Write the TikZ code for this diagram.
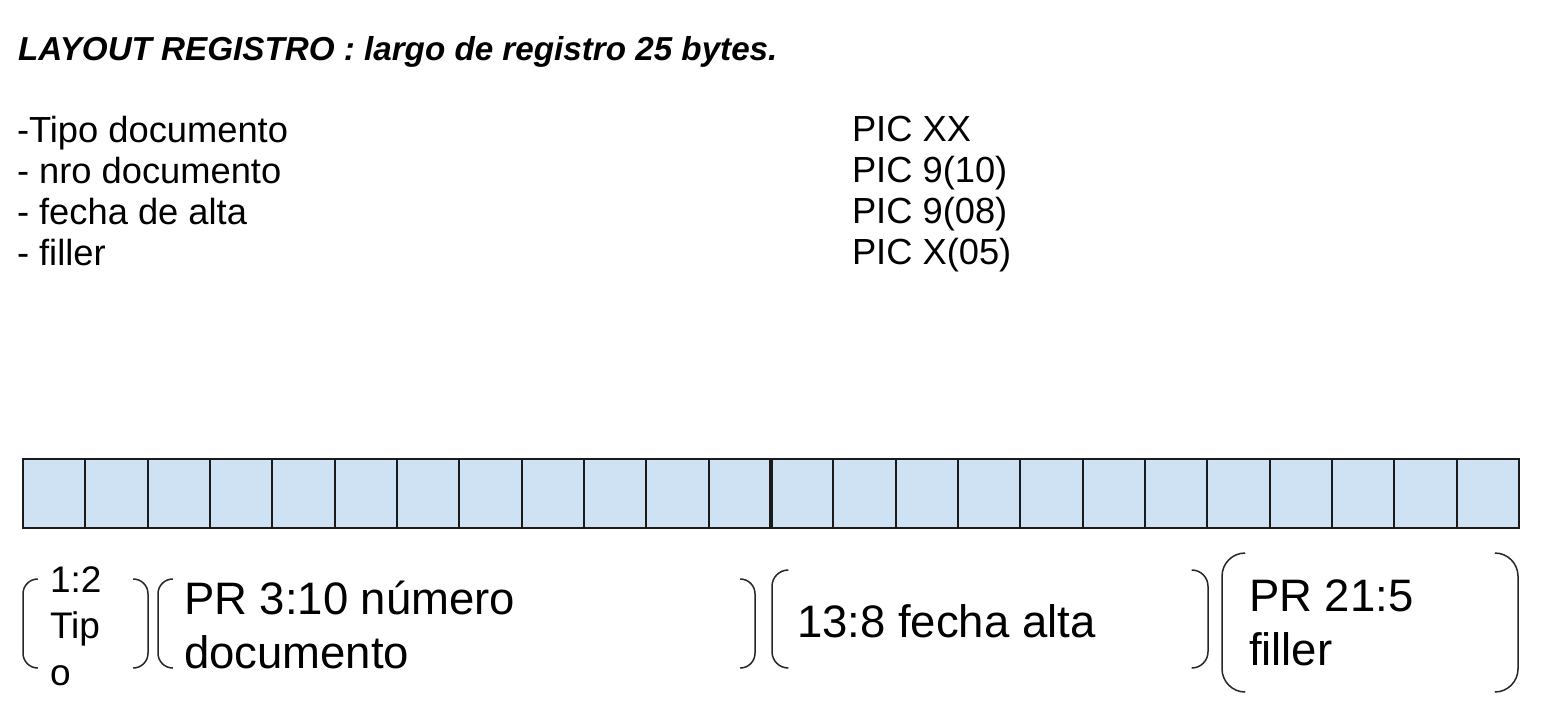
\documentclass[tikz,border=0pt]{standalone}
\usepackage{fontspec}
\setmainfont{Liberation Sans}
\definecolor{cellblue}{HTML}{CFE2F3}
\definecolor{edge}{HTML}{1A1A1A}
\newcommand\bpair[2]{%
  \draw[brk, rounded corners=#2pt] ([xshift=#2pt]#1.north west) -- (#1.north west) -- (#1.south west) -- ([xshift=#2pt]#1.south west);
  \draw[brk, rounded corners=#2pt] ([xshift=-#2pt]#1.north east) -- (#1.north east) -- (#1.south east) -- ([xshift=-#2pt]#1.south east);
}
\begin{document}
\begin{tikzpicture}[x=1pt,y=-1pt,
  txt/.style={inner sep=0pt, outer sep=0pt, anchor=base west, text=black},
  title/.style={txt, font=\fontsize{33.2}{38}\selectfont\bfseries\itshape},
  list/.style={txt, font=\fontsize{36.3}{41}\selectfont},
  small/.style={txt, font=\fontsize{37}{46}\selectfont},
  big/.style={txt, font=\fontsize{45.5}{54}\selectfont},
  cell/.style={draw=edge, line width=2pt, fill=cellblue, minimum width=62.33pt, minimum height=69pt, inner sep=0pt, outer sep=0pt},
  grp/.style={inner sep=0pt, outer sep=0pt, anchor=north west},
  brk/.style={draw=black!85, line width=1.5pt}
]
\useasboundingbox (0,0) rectangle (1552,726);

% title
\node[title] (title) at (18,60) {LAYOUT REGISTRO : largo de registro 25 bytes.};

% field list
\node[list] (f1) at (17,142) {-Tipo documento};
\node[list] (f2) at (17,183) {- nro documento};
\node[list] (f3) at (17,224) {- fecha de alta};
\node[list] (f4) at (17,265) {- filler};
\node[list] (p1) at (852,141) {PIC XX};
\node[list] (p2) at (852,182) {PIC 9(10)};
\node[list] (p3) at (852,223) {PIC 9(08)};
\node[list] (p4) at (852,264) {PIC X(05)};

% record cells
\foreach \i in {0,...,23} {
  \node[cell] (c\i) at ({23+62.33*\i+31.165},493.5) {};
}
\draw[edge, line width=4pt] (c11.north east) -- (c11.south east);

% bracket groups
\node[grp, minimum width=125pt, minimum height=89pt] (g1) at (23,579) {};
\node[grp, minimum width=597pt, minimum height=89pt] (g2) at (158,579) {};
\node[grp, minimum width=436pt, minimum height=98pt] (g3) at (772,570) {};
\node[grp, minimum width=296pt, minimum height=139pt] (g4) at (1222,553) {};
\bpair{g1}{14.8}
\bpair{g2}{14.8}
\bpair{g3}{16.3}
\bpair{g4}{23.2}

\node[small] (t1a) at (50,592) {1:2};
\node[small] (t1b) at (50,638) {Tip};
\node[small] (t1c) at (50,685) {o};
\node[big] (t2a) at (184,614) {PR 3:10 número};
\node[big] (t2b) at (184,668) {documento};
\node[big] (t3) at (797,637) {13:8 fecha alta};
\node[big] (t4a) at (1249,611) {PR 21:5};
\node[big] (t4b) at (1249,665) {filler};
\end{tikzpicture}
\end{document}
